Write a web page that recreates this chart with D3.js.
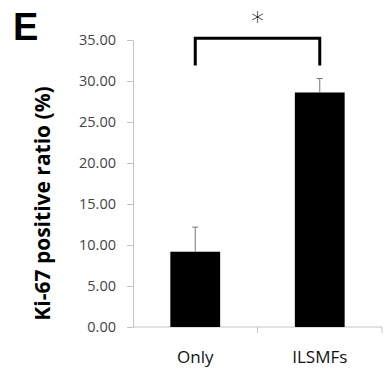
<!DOCTYPE html>
<html>
<head>
<meta charset="utf-8">
<script src="https://cdn.jsdelivr.net/npm/d3@7"></script>
<style>
  body { margin: 0; background: #fff; }
  svg { display: block; }
</style>
</head>
<body>
<script>
const groups = ['Only', 'ILSMFs']
const means = [9.18, 28.6]
const errors = [3.0, 1.7]
const yTicks = [0, 5, 10, 15, 20, 25, 30, 35]

const W = 385, H = 372
const M = { left: 133, right: 3, top: 40, bottom: 45 }

const svg = d3.select('body').append('svg')
  .attr('width', W)
  .attr('height', H)

const x = d3.scaleBand()
  .domain(groups)
  .range([M.left, W - M.right])
  .paddingInner(0.6)
  .paddingOuter(0.3)

const y = d3.scaleLinear()
  .domain([0, 35])
  .range([H - M.bottom, M.top])

// y axis
const yAxis = svg.append('g')
  .attr('transform', `translate(${M.left},0)`)
  .call(d3.axisLeft(y).tickValues(yTicks).tickFormat(d3.format('.2f')).tickSize(6).tickSizeOuter(0))
yAxis.select('.domain').attr('stroke', '#c4c4c4')
yAxis.selectAll('.tick line').attr('stroke', '#c4c4c4')
yAxis.selectAll('.tick text')
  .attr('x', -17)
  .attr('fill', '#444')
  .style('font-family', 'Open Sans')
  .style('font-size', '14.5px')

// x axis line with ticks at band edges
const edges = [M.left, M.left + (W - M.right - M.left) / 2, W - M.right]
svg.append('line')
  .attr('x1', M.left).attr('x2', W - M.right)
  .attr('y1', y(0)).attr('y2', y(0))
  .attr('stroke', '#c4c4c4')
svg.selectAll('.xtick')
  .data(edges.slice(1))
  .enter().append('line')
  .attr('x1', d => d).attr('x2', d => d)
  .attr('y1', y(0)).attr('y2', y(0) + 6)
  .attr('stroke', '#c4c4c4')

// bars
svg.selectAll('.bar')
  .data(groups)
  .enter().append('rect')
  .attr('x', d => x(d))
  .attr('width', x.bandwidth())
  .attr('y', (d, i) => y(means[i]))
  .attr('height', (d, i) => y(0) - y(means[i]))
  .attr('fill', '#000')

// error bars (upper only)
groups.forEach((g, i) => {
  const cx = x(g) + x.bandwidth() / 2
  svg.append('line')
    .attr('x1', cx).attr('x2', cx)
    .attr('y1', y(means[i])).attr('y2', y(means[i] + errors[i]))
    .attr('stroke', '#777').attr('stroke-width', 1)
  svg.append('line')
    .attr('x1', cx - 3).attr('x2', cx + 3)
    .attr('y1', y(means[i] + errors[i])).attr('y2', y(means[i] + errors[i]))
    .attr('stroke', '#777').attr('stroke-width', 1)
})

// category labels
svg.selectAll('.xlabel')
  .data(groups)
  .enter().append('text')
  .attr('x', d => x(d) + x.bandwidth() / 2)
  .attr('y', y(0) + 36)
  .attr('text-anchor', 'middle')
  .style('font-family', 'Open Sans')
  .style('font-size', '17px')
  .attr('fill', '#111')
  .text(d => d)

// significance bracket
const c0 = x(groups[0]) + x.bandwidth() / 2
const c1 = x(groups[1]) + x.bandwidth() / 2
svg.append('path')
  .attr('d', `M${c0},${y(31.9)}V${y(35.2)}H${c1}V${y(31.9)}`)
  .attr('fill', 'none')
  .attr('stroke', '#000')
  .attr('stroke-width', 3)
svg.append('text')
  .attr('x', (c0 + c1) / 2)
  .attr('y', 31)
  .attr('text-anchor', 'middle')
  .style('font-family', 'DejaVu Sans')
  .style('font-weight', '300')
  .style('font-size', '26px')
  .text('*')

// y label
svg.append('text')
  .attr('transform', `translate(50,${(y(0) + y(35)) / 2 + 20}) rotate(-90)`)
  .attr('text-anchor', 'middle')
  .style('font-family', 'Open Sans')
  .style('font-weight', 'bold')
  .style('font-size', '21px')
  .text('Ki-67 positive ratio (%)')

// panel letter
svg.append('text')
  .attr('x', 13)
  .attr('y', 40)
  .style('font-family', 'Liberation Sans')
  .style('font-weight', 'bold')
  .style('font-size', '38px')
  .text('E')
</script>
</body>
</html>
